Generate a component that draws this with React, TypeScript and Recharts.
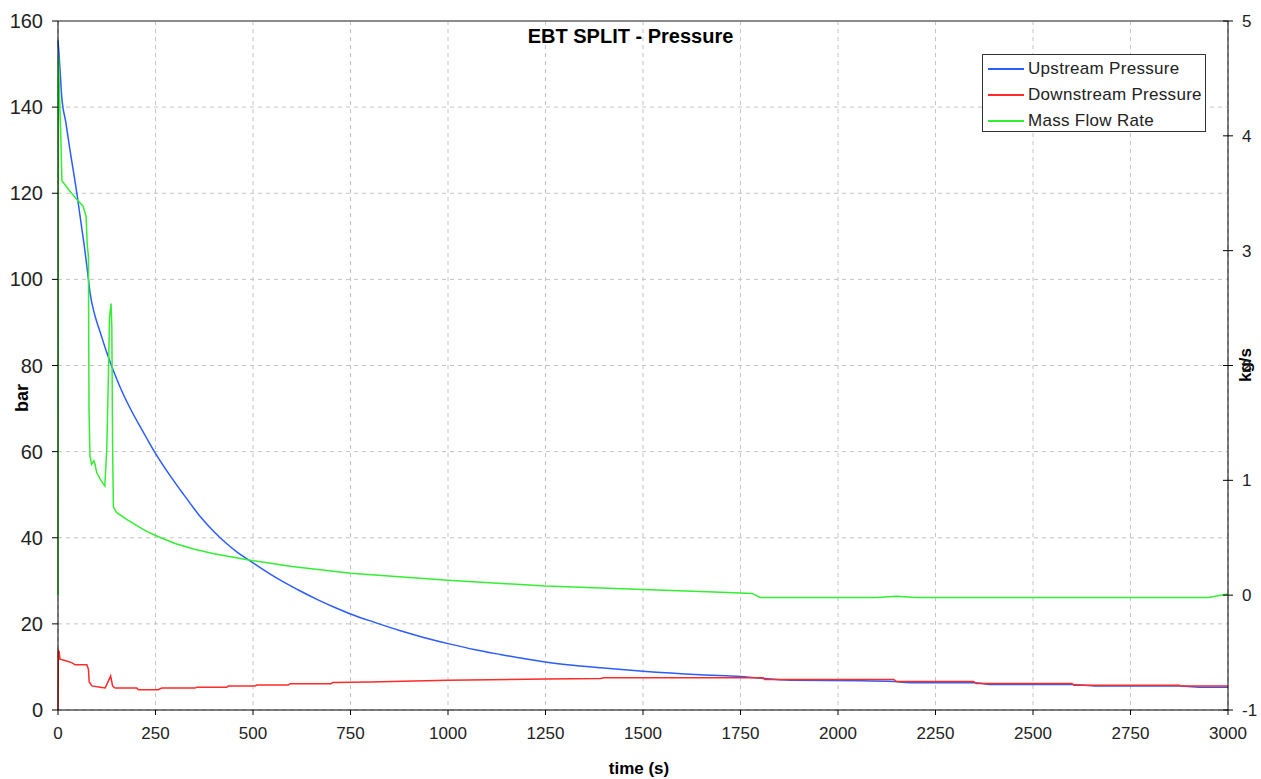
import { LineChart, Line, XAxis, YAxis, CartesianGrid, ReferenceLine, Label } from 'recharts';

// time axis (s)
const timeTicks = [0, 250, 500, 750, 1000, 1250, 1500, 1750, 2000, 2250, 2500, 2750, 3000];
const barTicks = [0, 20, 40, 60, 80, 100, 120, 140, 160];
const flowTicks = [-1, 0, 1, 2, 3, 4, 5];

// Upstream pressure (bar)
const upTime = [0, 3, 6, 9.5, 20, 30, 48, 60, 70, 78, 82, 95, 108, 125, 137, 150, 168, 190, 210, 230, 250, 280, 300, 321, 364, 400, 433, 460, 493, 540, 579, 620, 664, 710, 750, 810, 878, 940, 1006, 1070, 1134, 1190, 1254, 1320, 1391, 1500, 1647, 1750, 1880, 2060, 2143, 2197, 2348, 2400, 2600, 2663, 2875, 2938, 3000];
const upBar = [155.5, 152, 147.5, 142.5, 136.5, 130.5, 120.2, 112.5, 106, 100, 97, 91.5, 87.8, 83, 80, 77, 73.2, 69.2, 65.9, 62.7, 59.6, 55.4, 52.8, 50.2, 45.0, 41.4, 38.6, 36.6, 34.6, 31.8, 29.7, 27.7, 25.7, 23.8, 22.3, 20.4, 18.4, 16.8, 15.3, 14.0, 12.9, 12.0, 11.1, 10.4, 9.8, 9.0, 8.2, 7.8, 6.9, 6.8, 6.6, 6.3, 6.3, 5.9, 5.9, 5.55, 5.55, 5.3, 5.3];

// Downstream pressure (bar)
const downTime = [0, 1, 3, 5, 18, 35, 44, 74, 78, 80, 87, 108, 121, 129, 135, 140, 146, 202, 206, 257, 266, 352, 356, 433, 437, 505, 510, 590, 595, 700, 705, 800, 1000, 1250, 1391, 1400, 1808, 1812, 2143, 2150, 2348, 2355, 2600, 2605, 2875, 2880, 3000];
const downBar = [0, 13.8, 13.5, 11.8, 11.5, 11.0, 10.5, 10.5, 9.5, 6.5, 5.6, 5.3, 5.1, 6.7, 7.9, 5.6, 5.1, 5.1, 4.7, 4.7, 5.1, 5.1, 5.3, 5.3, 5.6, 5.6, 5.8, 5.8, 6.1, 6.1, 6.4, 6.5, 6.9, 7.2, 7.3, 7.5, 7.5, 7.1, 7.1, 6.6, 6.6, 6.15, 6.15, 5.75, 5.75, 5.55, 5.55];

// Mass flow rate (kg/s)
const flowTime = [0, 1, 3, 8, 10, 30, 50, 64, 72, 75, 78, 79.5, 82, 86, 92, 95, 99, 108, 120, 125, 129, 132, 134, 136, 138, 140, 142, 150, 176, 200, 225, 250, 300, 350, 400, 500, 600, 750, 1000, 1250, 1500, 1700, 1780, 1800, 2100, 2150, 2200, 2950, 3000];
const flowRate = [0, 4.7, 4.45, 3.9, 3.61, 3.52, 3.44, 3.39, 3.3, 3.05, 2.95, 1.62, 1.21, 1.14, 1.17, 1.14, 1.07, 1.01, 0.95, 1.27, 1.87, 2.41, 2.48, 2.54, 2.34, 1.3, 0.77, 0.72, 0.66, 0.61, 0.56, 0.52, 0.45, 0.4, 0.36, 0.3, 0.25, 0.19, 0.13, 0.08, 0.05, 0.025, 0.015, -0.02, -0.02, -0.01, -0.02, -0.02, 0.01];

const upstream = upTime.map((t, i) => ({ t, v: upBar[i] }));
const downstream = downTime.map((t, i) => ({ t, v: downBar[i] }));
const massFlow = flowTime.map((t, i) => ({ t, v: flowRate[i] }));

const font = '"Liberation Sans", Arial, sans-serif';

const legendItems = [
  { name: 'Upstream Pressure', color: '#2b5cff' },
  { name: 'Downstream Pressure', color: '#ff2a2a' },
  { name: 'Mass Flow Rate', color: '#33ee33' },
];

// right axis ticks cross the axis line like the original
const RightTick = ({ x, y, payload }: any) => (
  <g>
    <line x1={x - 19} x2={x - 9} y1={y} y2={y} stroke="#000" />
    <text x={x} y={y} dy={6} fill="#222" fontSize={17} fontFamily={font}>
      {payload.value}
    </text>
  </g>
);

export default function App() {
  return (
    <div style={{ position: 'absolute', left: 0, top: 0, width: 1261, height: 779, background: '#fff', fontFamily: font }}>
      <LineChart width={1261} height={779} margin={{ top: 21, right: 8, bottom: 29, left: 8 }}>
        <CartesianGrid yAxisId="left" stroke="#c4c4c4" strokeDasharray="4 4" />
        <XAxis
          type="number"
          dataKey="t"
          domain={[0, 3000]}
          ticks={timeTicks}
          height={40}
          stroke="#000"
          tickSize={5}
          tickMargin={12}
          tick={{ fill: '#222', fontSize: 17, fontFamily: font }}
        >
          <Label
            content={({ viewBox }: any) => (
              <text x={viewBox.x + viewBox.width / 2 - 4} y={774} textAnchor="middle" fontWeight="bold" fontSize={17} fontFamily={font} fill="#000">
                time (s)
              </text>
            )}
          />
        </XAxis>
        <YAxis
          yAxisId="left"
          domain={[0, 160]}
          ticks={barTicks}
          width={50}
          stroke="#000"
          tickSize={6}
          tickMargin={9}
          tick={{ fill: '#222', fontSize: 20, fontFamily: font }}
        >
          <Label
            content={({ viewBox }: any) => (
              <text x={viewBox.x + 20} y={398} transform={`rotate(-90 ${viewBox.x + 20} 398)`} textAnchor="middle" fontWeight="bold" fontSize={18} fontFamily={font} fill="#000">
                bar
              </text>
            )}
          />
        </YAxis>
        <YAxis
          yAxisId="right"
          orientation="right"
          domain={[-1, 5]}
          ticks={flowTicks}
          width={25}
          stroke="#000"
          tickLine={false}
          tickSize={5}
          tickMargin={9}
          tick={<RightTick />}
        >
          <Label
            content={({ viewBox }: any) => (
              <text x={viewBox.x + 23} y={365} transform={`rotate(-90 ${viewBox.x + 23} 365)`} textAnchor="middle" fontWeight="bold" fontSize={17} fontFamily={font} fill="#000">
                kg/s
              </text>
            )}
          />
        </YAxis>
        <ReferenceLine yAxisId="left" y={160} stroke="#8c8c8c" strokeWidth={2} />
        <Line yAxisId="left" type="monotone" data={upstream} dataKey="v" name="Upstream Pressure" stroke="#2b5cff" strokeWidth={1.5} dot={false} isAnimationActive={false} />
        <Line yAxisId="left" data={downstream} dataKey="v" name="Downstream Pressure" stroke="#ff2a2a" strokeWidth={1.5} dot={false} isAnimationActive={false} />
        <Line yAxisId="right" data={massFlow} dataKey="v" name="Mass Flow Rate" stroke="#33ee33" strokeWidth={1.5} dot={false} isAnimationActive={false} />
      </LineChart>

      <div style={{ position: 'absolute', left: 0, top: 25, width: 1261, textAlign: 'center', fontSize: 20, fontWeight: 'bold', color: '#000' }}>
        EBT SPLIT - Pressure
      </div>

      <div style={{ position: 'absolute', left: 982, top: 54, width: 222, height: 76, border: '1px solid #333', background: '#fff', boxSizing: 'content-box' }}>
        {legendItems.map((item, i) => (
          <div key={item.name} style={{ position: 'absolute', left: 5, top: 4 + i * 26, height: 20, display: 'flex', alignItems: 'center', whiteSpace: 'nowrap' }}>
            <div style={{ width: 36, height: 2, background: item.color }} />
            <span style={{ marginLeft: 4, fontSize: 17, color: '#222', letterSpacing: 0.3 }}>{item.name}</span>
          </div>
        ))}
      </div>
    </div>
  );
}
